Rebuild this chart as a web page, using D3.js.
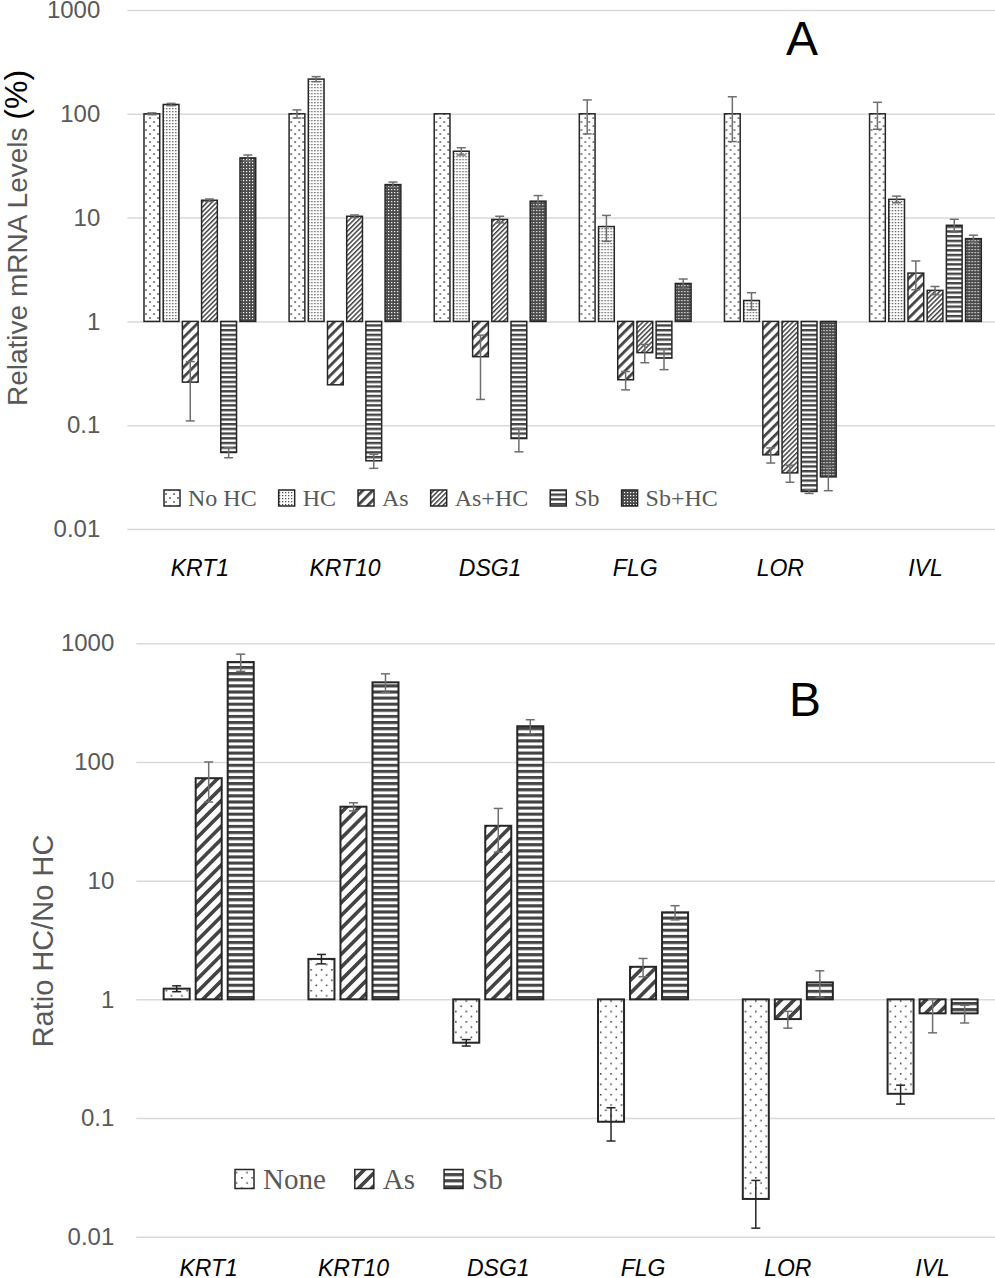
<!DOCTYPE html>
<html>
<head>
<meta charset="utf-8">
<script src="https://cdn.jsdelivr.net/npm/d3@7"></script>
<style>
  body { margin: 0; background: #fff; }
  svg { display: block; }
  .tick text { fill: #595959; font-family: "Liberation Sans", Arial, sans-serif; }
</style>
</head>
<body>
<div class="chart"></div>
<script>
// Genes on the x axis (same for both panels)
const genes = ['KRT1', 'KRT10', 'DSG1', 'FLG', 'LOR', 'IVL'];
const logTicks = [0.01, 0.1, 1, 10, 100, 1000];

// Panel A: relative mRNA levels (%)
const seriesA = ['No HC', 'HC', 'As', 'As+HC', 'Sb', 'Sb+HC'];
const noHC = [100, 100, 100, 100, 100, 100];
const noHCErr = [2, 9, 0, 36, 46, 29];
const hc = [123, 216, 43.6, 8.2, 1.59, 15.0];
const hcErr = [3, 12, 3.5, 2.3, 0.3, 1.1];
const as = [0.26, 0.245, 0.457, 0.274, 0.0518, 2.92];
const asErr = [0.15, 0, 0.28, 0.055, 0.0086, 0.9];
const asHC = [14.7, 10.3, 9.6, 0.50, 0.0347, 1.99];
const asHCErr = [0.4, 0.3, 0.7, 0.1, 0.0065, 0.18];
const sb = [0.0546, 0.0454, 0.0744, 0.443, 0.023, 8.43];
const sbErr = [0.006, 0.007, 0.019, 0.1, 0.001, 1.2];
const sbHC = [37.6, 20.8, 14.4, 2.32, 0.0318, 6.27];
const sbHCErr = [2.5, 1.2, 1.9, 0.24, 0.0084, 0.5];

// Panel B: ratio HC / No HC
const seriesB = ['None', 'As', 'Sb'];
const none = [1.23, 2.19, 0.431, 0.093, 0.0208, 0.160];
const noneErr = [0.07, 0.2, 0.027, 0.029, 0.009, 0.029];
const asB = [73, 42, 29, 1.88, 0.682, 0.762];
const asBErr = [27, 3.3, 11.6, 0.33, 0.11, 0.24];
const sbB = [695, 469, 200, 5.41, 1.39, 0.762];
const sbBErr = [115, 84, 27, 0.74, 0.35, 0.13];

const sans = '"Liberation Sans", Arial, sans-serif';
const serif = '"Liberation Serif", "Times New Roman", serif';

// turn the arrays into rows the bars can be joined to
function buildRows(series, vals, errs) {
  const rows = [];
  genes.forEach((g, gi) => {
    series.forEach((s, si) => {
      rows.push({gene: g, series: s, value: vals[si][gi], err: errs[si][gi]});
    });
  });
  return rows;
}
const rowsA = buildRows(seriesA, [noHC, hc, as, asHC, sb, sbHC],
  [noHCErr, hcErr, asErr, asHCErr, sbErr, sbHCErr]);
const rowsB = buildRows(seriesB, [none, asB, sbB], [noneErr, asBErr, sbBErr]);

const svg = d3.select('.chart').append('svg')
    .attr('width', 995)
    .attr('height', 1278);
svg.append('rect').attr('width', 995).attr('height', 1278).attr('fill', '#fff');

const defs = svg.append('defs');

// fill patterns, k scales them up for panel B
function makePatterns(prefix, k) {
  const dots = defs.append('pattern').attr('id', prefix + 'dots')
      .attr('patternUnits', 'userSpaceOnUse').attr('width', 8 * k).attr('height', 8 * k);
  dots.append('rect').attr('width', 8 * k).attr('height', 8 * k).attr('fill', '#fff');
  [[2, 2], [6, 6]].forEach(p => dots.append('rect')
      .attr('x', p[0] * k - 0.7).attr('y', p[1] * k - 0.7)
      .attr('width', 1.5).attr('height', 1.5).attr('fill', '#333'));

  const fine = defs.append('pattern').attr('id', prefix + 'fine')
      .attr('patternUnits', 'userSpaceOnUse').attr('width', 3).attr('height', 3);
  fine.append('rect').attr('width', 3).attr('height', 3).attr('fill', '#fff');
  fine.append('rect').attr('width', 1.3).attr('height', 1.3).attr('fill', '#555');

  const wide = defs.append('pattern').attr('id', prefix + 'wide')
      .attr('patternUnits', 'userSpaceOnUse').attr('width', 7 * k).attr('height', 10)
      .attr('patternTransform', 'rotate(45)');
  wide.append('rect').attr('width', 7 * k).attr('height', 10).attr('fill', '#fff');
  wide.append('rect').attr('width', 2.8 * k).attr('height', 10).attr('fill', '#444');

  const narrow = defs.append('pattern').attr('id', prefix + 'narrow')
      .attr('patternUnits', 'userSpaceOnUse').attr('width', 3.4).attr('height', 10)
      .attr('patternTransform', 'rotate(45)');
  narrow.append('rect').attr('width', 3.4).attr('height', 10).attr('fill', '#fff');
  narrow.append('rect').attr('width', 1.5).attr('height', 10).attr('fill', '#444');

  const horiz = defs.append('pattern').attr('id', prefix + 'horiz')
      .attr('patternUnits', 'userSpaceOnUse').attr('width', 10).attr('height', 4.7 * k);
  horiz.append('rect').attr('width', 10).attr('height', 4.7 * k).attr('fill', '#fff');
  horiz.append('rect').attr('width', 10).attr('height', 2.4 * k).attr('fill', '#444');

  const dark = defs.append('pattern').attr('id', prefix + 'dark')
      .attr('patternUnits', 'userSpaceOnUse').attr('width', 3).attr('height', 3);
  dark.append('rect').attr('width', 3).attr('height', 3).attr('fill', '#4a4a4a');
  dark.append('rect').attr('width', 1.2).attr('height', 1.2).attr('fill', '#fff');
}
makePatterns('a-', 1);
makePatterns('b-', 1.3);

const fillA = {'No HC': 'url(#a-dots)', 'HC': 'url(#a-fine)', 'As': 'url(#a-wide)',
  'As+HC': 'url(#a-narrow)', 'Sb': 'url(#a-horiz)', 'Sb+HC': 'url(#a-dark)'};
const fillB = {'None': 'url(#b-dots)', 'As': 'url(#b-wide)', 'Sb': 'url(#b-horiz)'};

function drawPanel(opt) {
  const g = svg.append('g');
  const y = d3.scaleLog().domain([0.01, 1000]).range(opt.yRange);
  const x0 = d3.scaleBand().domain(genes).range(opt.xRange)
      .paddingInner(opt.groupPad).paddingOuter(opt.groupPad / 2);
  const x1 = d3.scaleBand().domain(opt.series).range([0, x0.bandwidth()])
      .paddingInner(opt.barPad);
  const left = opt.xRange[0];

  // gridlines + tick labels
  const axis = g.append('g')
      .attr('transform', `translate(${left},0)`)
      .call(d3.axisLeft(y).tickValues(logTicks).tickFormat(d => String(d))
        .tickSize(-(995 - left)).tickPadding(opt.tickPad));
  axis.select('.domain').remove();
  axis.selectAll('.tick line').attr('stroke', '#d9d9d9').attr('stroke-width', 1.5);
  axis.selectAll('.tick text').attr('font-size', 24);

  const base = y(1);
  const grp = g.append('g').selectAll('g').data(opt.rows).join('g')
      .attr('transform', d => `translate(${x0(d.gene) + x1(d.series)},0)`);

  grp.append('rect')
      .attr('y', d => Math.min(base, y(d.value)))
      .attr('width', x1.bandwidth())
      .attr('height', d => Math.abs(base - y(d.value)))
      .attr('fill', d => opt.fill[d.series])
      .attr('stroke', '#262626')
      .attr('stroke-width', opt.barStroke);

  const cap = opt.cap / 2;
  const eb = grp.filter(d => d.err > 0).append('g')
      .attr('stroke', d => opt.errColor(d.series))
      .attr('stroke-width', 1.5)
      .attr('transform', `translate(${x1.bandwidth() / 2},0)`);
  eb.append('line')
      .attr('y1', d => y(d.value - d.err)).attr('y2', d => y(d.value + d.err));
  eb.append('line').attr('x1', -cap).attr('x2', cap)
      .attr('y1', d => y(d.value - d.err)).attr('y2', d => y(d.value - d.err));
  eb.append('line').attr('x1', -cap).attr('x2', cap)
      .attr('y1', d => y(d.value + d.err)).attr('y2', d => y(d.value + d.err));

  // gene labels
  g.append('g').selectAll('text').data(genes).join('text')
      .attr('x', d => x0(d) + x0.bandwidth() / 2)
      .attr('y', opt.labelY)
      .attr('text-anchor', 'middle')
      .attr('font-family', sans).attr('font-style', 'italic')
      .attr('font-size', 23).attr('fill', '#000')
      .text(d => d);

  // legend laid out left to right
  let lx = opt.legendX;
  opt.series.forEach(s => {
    const b = opt.legendBox;
    g.append('rect').attr('x', lx).attr('y', opt.legendY - b / 2)
        .attr('width', b).attr('height', b)
        .attr('fill', opt.fill[s]).attr('stroke', '#262626').attr('stroke-width', 1.5);
    const t = g.append('text').attr('x', lx + b + opt.legendGap)
        .attr('y', opt.legendY).attr('dy', '0.35em')
        .attr('font-family', serif).attr('font-size', opt.legendSize)
        .attr('fill', '#595959').text(s);
    lx += b + opt.legendGap + t.node().getComputedTextLength() + opt.legendSpace;
  });

  // panel letter
  g.append('text').attr('x', opt.letter[0]).attr('y', opt.letter[1])
      .attr('text-anchor', 'middle').attr('font-family', sans)
      .attr('font-size', 48).attr('fill', '#000').text(opt.letter[2]);

  return g;
}

const gA = drawPanel({
  rows: rowsA, series: seriesA, fill: fillA,
  yRange: [529, 10], xRange: [127.3, 998],
  groupPad: 0.23, barPad: 0.18, tickPad: 27, barStroke: 1.5, cap: 9,
  errColor: () => '#6e6e6e',
  labelY: 576,
  legendX: 164, legendY: 498, legendBox: 16, legendGap: 8, legendSpace: 22, legendSize: 24,
  letter: [802, 55, 'A']
});

const gB = drawPanel({
  rows: rowsB, series: seriesB, fill: fillB,
  yRange: [1236.7, 643.3], xRange: [136.3, 1005],
  groupPad: 0.378, barPad: 0.1875, tickPad: 22, barStroke: 2, cap: 9,
  errColor: s => s === 'None' ? '#262626' : '#6e6e6e',
  labelY: 1276,
  legendX: 235, legendY: 1179, legendBox: 19, legendGap: 9, legendSpace: 29, legendSize: 29,
  letter: [805, 716, 'B']
});

// y axis titles
const titleA = svg.append('text')
    .attr('transform', 'translate(27,238) rotate(-90)')
    .attr('text-anchor', 'middle')
    .attr('font-family', sans).attr('font-size', 28).attr('fill', '#595959');
titleA.append('tspan').text('Relative mRNA Levels ');
titleA.append('tspan').attr('fill', '#000').attr('font-size', 32).text('(%)');

svg.append('text')
    .attr('transform', 'translate(53,941) rotate(-90)')
    .attr('text-anchor', 'middle')
    .attr('font-family', sans).attr('font-size', 29).attr('fill', '#595959')
    .text('Ratio HC/No HC');
</script>
</body>
</html>
